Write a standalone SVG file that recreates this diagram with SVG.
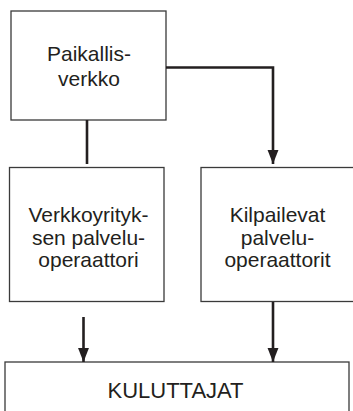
<svg xmlns="http://www.w3.org/2000/svg" width="353" height="411" viewBox="0 0 353 411">
<style>
.box{fill:#fff;stroke:#3a3a3a;stroke-width:1.3}
.lbl{font-family:"Liberation Sans",Arial,sans-serif;font-size:21px;fill:#231f20;text-anchor:middle}
.con{fill:none;stroke:#231f20;stroke-width:2.6}
</style>
<defs>
<marker id="ah" markerUnits="userSpaceOnUse" markerWidth="14" markerHeight="18" refX="18" refY="7" viewBox="0 0 18 14" orient="auto">
<path d="M0,0 L18,7 L0,14 Z" fill="#231f20"/>
</marker>
</defs>
<rect width="353" height="411" fill="#fff"/>
<g id="n-paikallisverkko">
<rect class="box" x="11" y="11" width="155" height="109"/>
<text class="lbl" x="89" y="61">Paikallis-</text>
<text class="lbl" x="89" y="86">verkko</text>
</g>
<g id="n-verkkoyrityksen">
<rect class="box" x="9.5" y="167.5" width="154.5" height="134"/>
<text class="lbl" x="88.5" y="222">Verkkoyrityk-</text>
<text class="lbl" x="88.5" y="244.5">sen palvelu-</text>
<text class="lbl" x="88.5" y="267">operaattori</text>
</g>
<g id="n-kilpailevat">
<rect class="box" x="201" y="167.5" width="155" height="134"/>
<text class="lbl" x="277.5" y="222">Kilpailevat</text>
<text class="lbl" x="277.5" y="244.5">palvelu-</text>
<text class="lbl" x="277.5" y="267">operaattorit</text>
</g>
<g id="n-kuluttajat">
<rect class="box" x="5" y="362" width="344" height="60"/>
<text class="lbl" x="175.5" y="397.5" style="font-size:22px">KULUTTAJAT</text>
</g>
<g id="connectors">
<path class="con" d="M87,120 V164"/>
<path class="con" d="M166,67.5 H273 V164" marker-end="url(#ah)"/>
<path class="con" d="M83.5,317 V362" marker-end="url(#ah)"/>
<path class="con" d="M273,302 V362" marker-end="url(#ah)"/>
</g>
</svg>
